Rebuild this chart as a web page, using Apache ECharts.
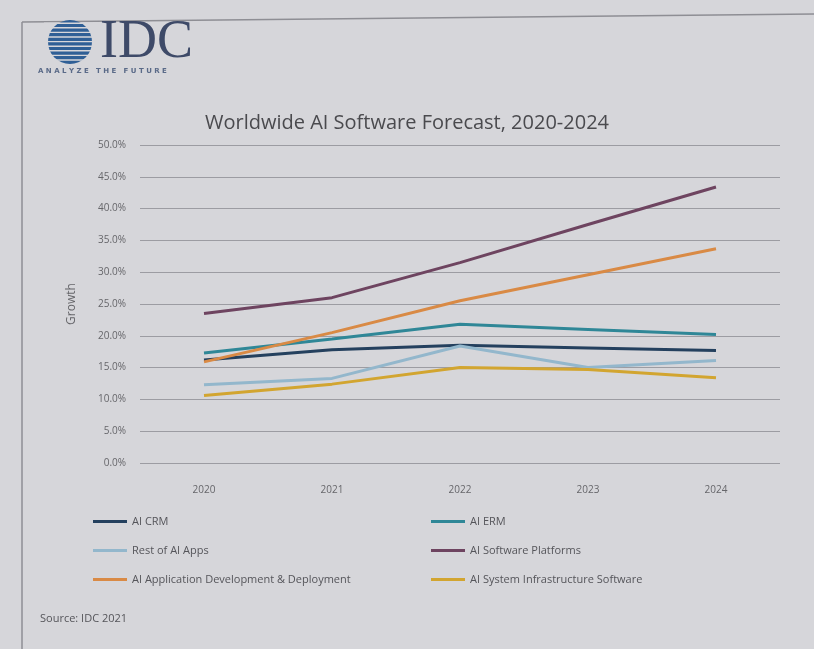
<!DOCTYPE html>
<html><head><meta charset="utf-8">
<script src="https://cdn.jsdelivr.net/npm/echarts@6/dist/echarts.min.js"></script>
<style>html,body{margin:0;padding:0;background:#d4d4d8}#c{width:814px;height:649px}</style>
</head><body><div id="c"></div>
<script>
var years = ['2020','2021','2022','2023','2024'];
var yTicks = [0,5,10,15,20,25,30,35,40,45,50];
var aiCRM = [16.2, 17.8, 18.5, 18.1, 17.7];
var aiERM = [17.3, 19.5, 21.8, 21.0, 20.2];
var restOfAIApps = [12.3, 13.3, 18.4, 15.0, 16.1];
var aiSoftwarePlatforms = [23.5, 26.0, 31.5, 37.5, 43.4];
var aiAppDev = [15.9, 20.5, 25.5, 29.6, 33.7];
var aiSysInfra = [10.6, 12.4, 15.0, 14.7, 13.4];
var names = ['AI CRM','AI ERM','Rest of AI Apps','AI Software Platforms','AI Application Development & Deployment','AI System Infrastructure Software'];
var colors = ['#24405e','#2f8797','#93b7cc','#6e4460','#d98a45','#d2a530'];
var values = [aiCRM, aiERM, restOfAIApps, aiSoftwarePlatforms, aiAppDev, aiSysInfra];

var chart = echarts.init(document.getElementById('c'));
var font = '"Open Sans", "Noto Sans", sans-serif';
var series = names.map(function(n,i){
  return {name:n,type:'line',data:values[i],symbol:'none',
    lineStyle:{width:3,color:colors[i]},itemStyle:{color:colors[i]}};
});
var stripes = [{type:'circle',shape:{cx:70,cy:42,r:22},style:{fill:'#2f5f96'}}];
for (var k=0;k<9;k++){
  var yy = 22.5 + k*4.6;
  stripes.push({type:'rect',shape:{x:44,y:yy,width:52,height:1.4},style:{fill:'#d6d6da'}});
}
chart.setOption({
  backgroundColor:'#d6d6da',
  textStyle:{fontFamily:font},
  title:{text:'Worldwide AI Software Forecast, 2020-2024',left:'center',top:108,
    textStyle:{fontSize:20,fontWeight:'normal',color:'#4a4a4e',fontFamily:font}},
  grid:{left:140,right:34,top:145,bottom:186},
  xAxis:{type:'category',data:years,boundaryGap:true,
    axisLine:{show:false},axisTick:{show:false},
    axisLabel:{color:'#66666a',fontSize:10,margin:22,fontFamily:font}},
  yAxis:{type:'value',min:0,max:50,interval:5,name:'Growth',nameLocation:'middle',nameGap:62,
    nameTextStyle:{color:'#66666a',fontSize:12,fontFamily:font},
    axisLabel:{color:'#66666a',fontSize:10,margin:14,fontFamily:font,formatter:function(v){return v.toFixed(1)+'%';}},
    splitLine:{lineStyle:{color:'#9c9ca2',width:1}}},
  legend:[
    {orient:'vertical',left:88,top:511,itemGap:18,itemWidth:34,itemHeight:3,icon:'rect',
     data:[names[0],names[2],names[4]],textStyle:{color:'#55555a',fontSize:11,fontFamily:font}},
    {orient:'vertical',left:426,top:511,itemGap:18,itemWidth:34,itemHeight:3,icon:'rect',
     data:[names[1],names[3],names[5]],textStyle:{color:'#55555a',fontSize:11,fontFamily:font}}
  ],
  graphic:[
    {type:'line',shape:{x1:22,y1:22,x2:22,y2:649},style:{stroke:'#8e8e94',lineWidth:1.5}},
    {type:'line',shape:{x1:22,y1:22,x2:814,y2:14},style:{stroke:'#8e8e94',lineWidth:1.5}},
    {type:'group',children:stripes},
    {type:'text',left:100,top:16,style:{text:'IDC',font:'54px "Liberation Serif", serif',fill:'#3e4a68'}},
    {type:'text',left:38,top:68,style:{text:'A N A L Y Z E   T H E   F U T U R E',font:'bold 7px "DejaVu Sans", sans-serif',fill:'#5a6a88'}},
    {type:'text',left:40,top:613,style:{text:'Source: IDC 2021',font:'11px "Open Sans", sans-serif',fill:'#55555a'}}
  ],
  series:series
});
</script></body></html>
